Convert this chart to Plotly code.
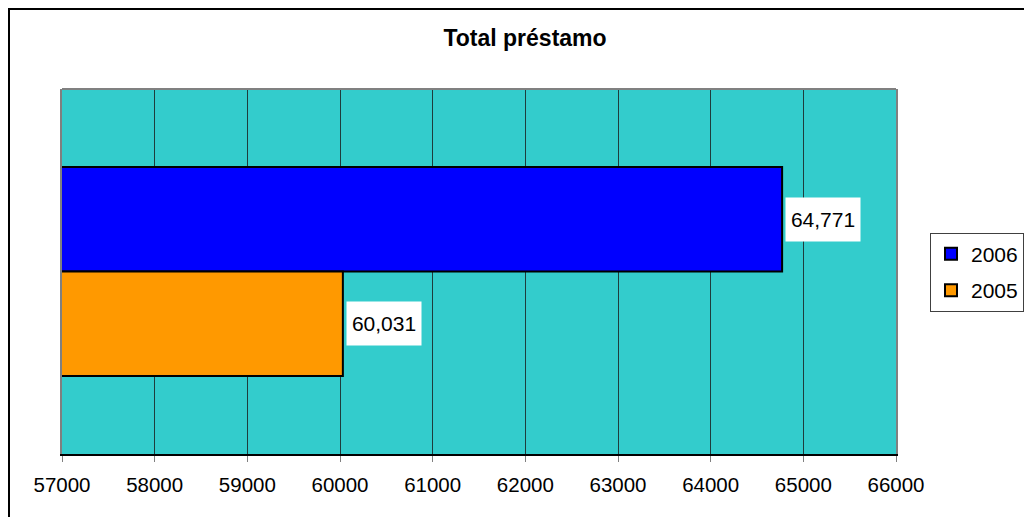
import plotly.graph_objects as go

# ---- data ----
title_text = "Total préstamo"
category = ["Total préstamo"]
series_names = ["2006", "2005"]
series_values = [64771, 60031]
x_ticks = [57000, 58000, 59000, 60000, 61000, 62000, 63000, 64000, 65000, 66000]

# ---- styles ----
bar_colors = {"2005": "#FF9900", "2006": "#0000FF"}
FONT = "Liberation Sans, Arial, sans-serif"

# page is drawn with an 8px body margin offset; figure coordinates below
L, T, R, B = 54, 81, 888, 446
W, H = 1016, 509
PW, PH = R - L, B - T
BARGAP = 0.427
half_bar = PH * (1 - BARGAP) / 2 / 2

fig = go.Figure()
for name, val in zip(series_names, series_values):
    fig.add_trace(go.Bar(
        y=category, x=[val], name=name, orientation="h",
        base=0,
        marker=dict(color=bar_colors[name], line=dict(color="#000000", width=2)),
        legendgroup=name,
        hoverinfo="x+name",
    ))

annotations = []
for i, (name, val) in enumerate(zip(series_names, series_values)):
    annotations.append(dict(
        x=val, y=category[0], xref="x", yref="y",
        yshift=(half_bar if i == 0 else -half_bar),
        text=f"{val:,}", showarrow=False,
        xanchor="left", yanchor="middle", xshift=3,
        bgcolor="#FFFFFF", borderpad=5, width=64, height=33,
        font=dict(family=FONT, size=21, color="#000000"),
    ))

fig.update_layout(
    width=W, height=H,
    margin=dict(l=L, r=W - R, t=T, b=H - B, pad=0, autoexpand=False),
    paper_bgcolor="#FFFFFF",
    plot_bgcolor="#33CCCC",
    barmode="group",
    bargap=BARGAP,
    bargroupgap=0,
    font=dict(family=FONT, size=21, color="#000000"),
    title=dict(text=f"<b>{title_text}</b>", x=(517 - L) / PW, xref="paper",
               xanchor="center", y=1 - 30 / H, yref="container", yanchor="middle",
               font=dict(family=FONT, size=23, color="#000000")),
    xaxis=dict(
        range=[x_ticks[0], x_ticks[-1]], tickvals=x_ticks,
        ticktext=[str(t) for t in x_ticks],
        showgrid=True, gridcolor="#1E3C3C", gridwidth=1,
        showline=True, linecolor="#000000", linewidth=2,
        ticks="outside", ticklen=6, tickcolor="#808080", tickwidth=1,
        ticklabelstandoff=5,
        zeroline=False, fixedrange=True,
        tickfont=dict(family=FONT, size=20.5, color="#000000"),
    ),
    yaxis=dict(
        showticklabels=False, showgrid=False, zeroline=False,
        showline=True, linecolor="#808080", linewidth=2, mirror=True,
        ticks="", fixedrange=True, autorange="reversed",
    ),
    legend=dict(
        x=(922 - L) / PW, y=(B - 224.7) / PH, xanchor="left", yanchor="top",
        traceorder="grouped", tracegroupgap=6,
        bordercolor="#404040", borderwidth=1, bgcolor="#FFFFFF",
        font=dict(family=FONT, size=21, color="#000000"),
        itemwidth=30,
    ),
    annotations=annotations,
    shapes=[
        dict(type="line", xref="paper", yref="paper", x0=0, x1=1, y0=1, y1=1,
             line=dict(color="#808080", width=2)),
        dict(type="rect", xref="paper", yref="paper",
             x0=(1 - L) / PW, x1=1.6, y0=-0.6, y1=(B - 1) / PH,
             line=dict(color="#000000", width=2), fillcolor="rgba(0,0,0,0)"),
    ],
    showlegend=True,
)

fig.write_html("out.html")
